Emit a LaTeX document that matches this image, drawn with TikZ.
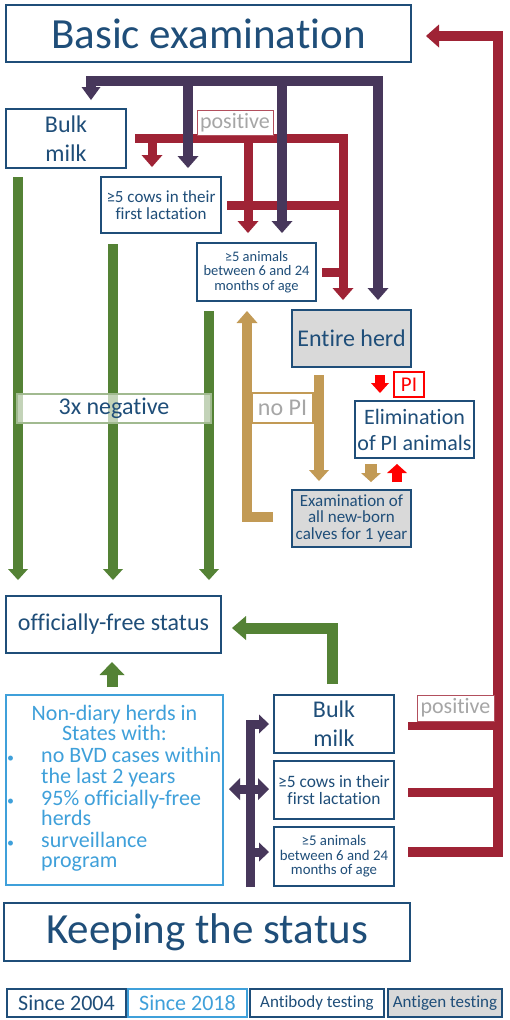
\documentclass[tikz,border=0pt]{standalone}
\usepackage{fontspec}
\setmainfont{Carlito}[Ligatures=NoCommon]
\usetikzlibrary{arrows.meta}
\definecolor{dkblue}{HTML}{1F4E79}
\definecolor{pur}{HTML}{47375B}
\definecolor{dred}{HTML}{9F2335}
\definecolor{grn}{HTML}{548235}
\definecolor{tanc}{HTML}{C29A55}
\definecolor{lblue}{HTML}{3FA0DA}
\definecolor{gtext}{HTML}{A6A6A6}
\definecolor{gfill}{HTML}{D9D9D9}
\definecolor{bred}{HTML}{FF0000}
\tikzset{
  box/.style={draw=dkblue, line width=1.8pt, text=dkblue, inner sep=0pt, align=center},
  gbox/.style={box, fill=gfill},
  lbox/.style={box, draw=lblue, text=lblue},
  posbox/.style={draw=dred!80, line width=1pt, text=gtext, inner sep=0pt, fill=white},
  fs/.style 2 args={font=\fontsize{#1}{#2}\selectfont},
  blk/.style={line width=10pt, line cap=butt, line join=miter},
  tipA/.style={-{Triangle[width=21pt,length=12pt,line width=0pt]}},
  tipS/.style={-{Triangle[width=19pt,length=10pt,line width=0pt]}},
  tipB/.style={{Triangle[width=22pt,length=11pt,line width=0pt]}-{Triangle[width=22pt,length=11pt,line width=0pt]}},
}
\begin{document}
\begin{tikzpicture}[x=1pt,y=-1pt]
\useasboundingbox[fill=white] (0,0) rectangle (510,1020);

% ---------------- boxes ----------------
\node[box, fs={43}{50}, minimum width=405pt, minimum height=57pt] (basic) at (208.5,33.5) {Basic examination};
\node[box, fs={24}{29}, minimum width=120pt, minimum height=59pt] (bulk1) at (66,138.5) {Bulk\\milk};
\node[box, fs={17}{16.5}, minimum width=120pt, minimum height=56pt] (cows1) at (161,205) {≥5 cows in their\\first lactation};
\node[box, fs={14.5}{14.5}, minimum width=119pt, minimum height=58pt] (anim1) at (256.5,272) {≥5 animals\\between 6 and 24\\months of age};
\node[gbox, fs={24}{29}, minimum width=119pt, minimum height=57pt] (herd) at (351.5,338.5) {Entire herd};
\node[box, fs={22}{26}, minimum width=119pt, minimum height=57pt] (elim) at (414.5,429.5) {Elimination\\of PI animals};
\node[gbox, fs={17}{16.3}, minimum width=119pt, minimum height=57pt] (exam) at (351.5,518.5) {Examination of\\all new-born\\calves for 1 year};
\node[box, fs={24}{29}, minimum width=215pt, minimum height=57pt] (free) at (113.5,624.5) {officially-free status};
\node[lbox, minimum width=217pt, minimum height=190pt] (nond) at (114.5,790) {};
\node[box, fs={24}{29}, minimum width=120pt, minimum height=58pt] (bulk2) at (334,724) {Bulk\\milk};
\node[box, fs={17.4}{17}, minimum width=120pt, minimum height=58pt] (cows2) at (334,790) {≥5 cows in their\\first lactation};
\node[box, fs={14.8}{14.5}, minimum width=120pt, minimum height=59pt] (anim2) at (334,856.5) {≥5 animals\\between 6 and 24\\months of age};
\node[box, fs={43}{50}, minimum width=406pt, minimum height=58pt] (keep) at (207,932) {Keeping the status};

% non-diary text
\node[fs={22}{22}, text=lblue, inner sep=0pt, anchor=base] (nd1) at (114.5,720) {Non-diary herds in};
\node[fs={22}{22}, text=lblue, inner sep=0pt, anchor=base] (nd2) at (114.5,740) {States with:};
\node[fs={14}{14}, text=lblue, inner sep=0pt, anchor=base west] (nb1) at (7,762) {•};
\node[fs={14}{14}, text=lblue, inner sep=0pt, anchor=base west] (nb2) at (7,805) {•};
\node[fs={14}{14}, text=lblue, inner sep=0pt, anchor=base west] (nb3) at (7,847) {•};
\node[fs={22}{22}, text=lblue, inner sep=0pt, anchor=base west] (nt1) at (41,762) {no BVD cases within};
\node[fs={22}{22}, text=lblue, inner sep=0pt, anchor=base west] (nt2) at (41,783) {the last 2 years};
\node[fs={22}{22}, text=lblue, inner sep=0pt, anchor=base west] (nt3) at (41,805) {95\% officially-free};
\node[fs={22}{22}, text=lblue, inner sep=0pt, anchor=base west] (nt4) at (41,825) {herds};
\node[fs={22}{22}, text=lblue, inner sep=0pt, anchor=base west] (nt5) at (41,847) {surveillance};
\node[fs={22}{22}, text=lblue, inner sep=0pt, anchor=base west] (nt6) at (41,867) {program};

% legend
\node[box, line width=2pt, fs={22}{24}, minimum width=119pt, minimum height=28pt] (leg1) at (66.5,1003) {Since 2004};
\node[lbox, line width=2pt, fs={22}{24}, minimum width=119pt, minimum height=28pt] (leg2) at (187.5,1003) {Since 2018};
\node[box, line width=2pt, fs={17}{20}, minimum width=134pt, minimum height=28pt] (leg3) at (317,1003) {Antibody testing};
\node[gbox, line width=2pt, fs={17}{20}, minimum width=114pt, minimum height=28pt] (leg4) at (445,1003) {Antigen testing};

% ---------------- coordinates ----------------
\coordinate (g1s) at (18,177);  \coordinate (g1e) at (18,580);
\coordinate (g2s) at (113,244); \coordinate (g2e) at (113,580);
\coordinate (g3s) at (209,311); \coordinate (g3e) at (209,580);
\coordinate (gbs) at (332,684); \coordinate (gbc) at (332,628); \coordinate (gbe) at (232,628);
\coordinate (gns) at (112,687); \coordinate (gne) at (112,662);

\coordinate (t1s) at (273,517); \coordinate (t1c) at (247,517); \coordinate (t1e) at (247,311);
\coordinate (t2s) at (319,375); \coordinate (t2e) at (319,481);
\coordinate (t3s) at (371,464); \coordinate (t3e) at (371,482);

\coordinate (r1a) at (135,138.5); \coordinate (r1b) at (343,138.5); \coordinate (r1e) at (343,300);
\coordinate (r2s) at (152,138.5); \coordinate (r2e) at (152,167);
\coordinate (r3s) at (248,138.5); \coordinate (r3e) at (248,233);
\coordinate (r4s) at (227,205);   \coordinate (r4e) at (343,205);
\coordinate (r5s) at (322,272);   \coordinate (r5e) at (343,272);
\coordinate (rbs) at (408,852); \coordinate (rbc) at (498,852); \coordinate (rbt) at (498,36); \coordinate (rbe) at (426,36);
\coordinate (rh1s) at (408,726); \coordinate (rh1e) at (498,726);
\coordinate (rh2s) at (408,792); \coordinate (rh2e) at (498,792);
\coordinate (pis) at (380,375); \coordinate (pie) at (380,393);
\coordinate (pus) at (397,482); \coordinate (pue) at (397,464);

\coordinate (p1e) at (91,100); \coordinate (p1a) at (91,81); \coordinate (p1b) at (378,81); \coordinate (p1f) at (378,300);
\coordinate (p2s) at (188,81); \coordinate (p2e) at (188,168);
\coordinate (p3s) at (282,81); \coordinate (p3e) at (282,233);
\coordinate (q1s) at (250,887); \coordinate (q1c) at (250,724); \coordinate (q1e) at (269,724);
\coordinate (q2a) at (229,789); \coordinate (q2b) at (269,789);
\coordinate (q3s) at (250,852); \coordinate (q3e) at (269,852);

% ---------------- green ----------------
\draw[blk, grn, -{Triangle[width=20pt,length=11pt,line width=0pt]}] (g1s) -- (g1e);
\draw[blk, grn, -{Triangle[width=20pt,length=11pt,line width=0pt]}] (g2s) -- (g2e);
\draw[blk, grn, -{Triangle[width=20pt,length=11pt,line width=0pt]}] (g3s) -- (g3e);
\draw[blk, grn, line width=11pt, -{Triangle[width=24pt,length=14pt,line width=0pt]}] (gbs) -- (gbc) -- (gbe);
\draw[blk, grn, line width=11pt, -{Triangle[width=25pt,length=13pt,line width=0pt]}] (gns) -- (gne);

\node[draw=grn!55, line width=1.2pt, fill=white, fill opacity=0.65, text opacity=1, text=dkblue, fs={24}{29}, inner sep=0pt, minimum width=194pt, minimum height=29pt] (neg) at (114,408.5) {3x negative};

% ---------------- tan ----------------
\draw[blk, tanc, tipA] (t1s) -- (t1c) -- (t1e);
\draw[blk, tanc, -{Triangle[width=20pt,length=11pt,line width=0pt]}] (t2s) -- (t2e);
\draw[blk, tanc, line width=12pt, -{Triangle[width=20pt,length=9pt,line width=0pt]}] (t3s) -- (t3e);
\node[draw=tanc, line width=1.2pt, fill=white, text=gtext, fs={24}{29}, inner sep=0pt, minimum width=61pt, minimum height=30pt] (nopi) at (282.5,408) {no PI};

% ---------------- red ----------------
\draw[blk, dred, line width=9pt, tipA] (r1a) -- (r1b) -- (r1e);
\draw[blk, dred, line width=9pt, tipA] (r2s) -- (r2e);
\draw[blk, dred, line width=9pt, tipA] (r3s) -- (r3e);
\draw[blk, dred, line width=9pt] (r4s) -- (r4e);
\draw[blk, dred, line width=9pt] (r5s) -- (r5e);
\draw[blk, dred, line width=9.5pt, -{Triangle[width=23pt,length=13pt,line width=0pt]}] (rbs) -- (rbc) -- (rbt) -- (rbe);
\draw[blk, dred, line width=8.5pt] (rh1s) -- (rh1e);
\draw[blk, dred, line width=9pt] (rh2s) -- (rh2e);
\draw[blk, bred, -{Triangle[width=18pt,length=10pt,line width=0pt]}] (pis) -- (pie);
\draw[blk, bred, -{Triangle[width=20pt,length=9pt,line width=0pt]}] (pus) -- (pue);
\node[draw=bred, line width=1.5pt, fill=white, text=bred, fs={21}{24}, inner sep=0pt, minimum width=30pt, minimum height=25pt] (pi) at (409,384.5) {PI};
\node[posbox, fs={22}{24}, minimum width=76pt, minimum height=25pt] (pos1) at (235,122.5) {positive};
\node[posbox, fs={22}{24}, minimum width=77pt, minimum height=26pt] (pos2) at (455.5,708) {positive};

% ---------------- purple ----------------
\draw[blk, pur, line width=10pt, {Triangle[width=19pt,length=13pt,line width=0pt]}-{Triangle[width=21pt,length=12pt,line width=0pt]}] (p1e) -- (p1a) -- (p1b) -- (p1f);
\draw[blk, pur, tipA] (p2s) -- (p2e);
\draw[blk, pur, tipA] (p3s) -- (p3e);
\draw[blk, pur, line width=9pt, tipS] (q1s) -- (q1c) -- (q1e);
\draw[blk, pur, line width=9pt, tipB] (q2a) -- (q2b);
\draw[blk, pur, line width=9pt, tipS] (q3s) -- (q3e);
\end{tikzpicture}
\end{document}
